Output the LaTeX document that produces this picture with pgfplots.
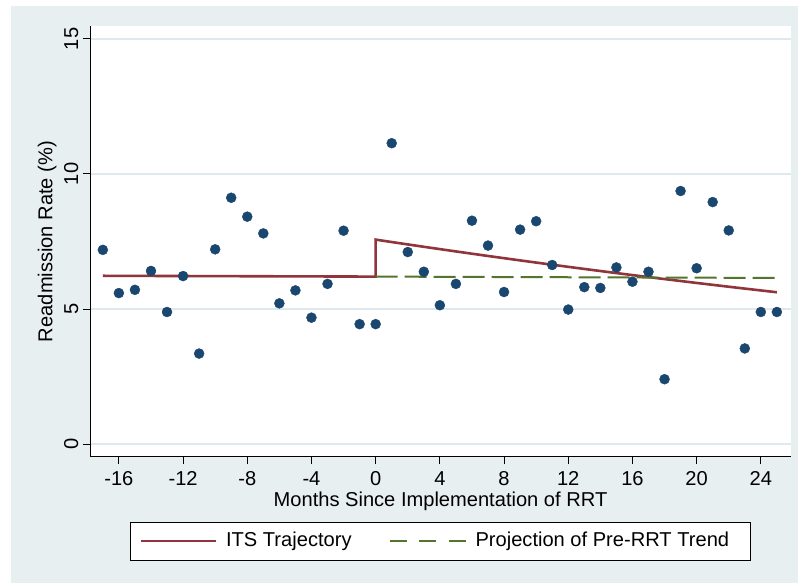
\documentclass[border=0pt]{standalone}
\usepackage{pgfplots}
\pgfplotsset{compat=1.18}
\usepackage{fontspec}
\setmainfont{Liberation Sans}
\definecolor{bgcol}{RGB}{232,239,241}
\definecolor{gridcol}{RGB}{222,233,238}
\definecolor{navy}{RGB}{26,71,111}
\definecolor{maroon}{RGB}{144,53,59}
\definecolor{forest}{RGB}{85,117,47}
\newcommand{\fs}{\fontsize{20.1bp}{24bp}\selectfont}
\pgfplotsset{
  itsimg/.style={legend image code/.code={\draw[maroon, line width=2.6bp] (0bp,0bp) -- (75bp,0bp);}},
  projimg/.style={legend image code/.code={\draw[forest, line width=2bp, dash pattern=on 17bp off 12.5bp] (0bp,0bp) -- (76bp,0bp);}}
}
\begin{document}
\begin{tikzpicture}
\fill[white] (0,0) rectangle (798bp,583bp);
\fill[bgcol] (11bp,0) rectangle (798bp,577bp);
\begin{axis}[
  at={(90bp,126bp)}, anchor=south west,
  scale only axis, width=701bp, height=431bp,
  xmin=-17.80, xmax=25.88, ymin=-0.48, ymax=15.48,
  axis background/.style={fill=white},
  axis x line*=bottom, axis y line*=left,
  axis line style={black, line width=1bp, -},
  tick align=outside, major tick length=7bp,
  every tick/.style={black, line width=1bp},
  xtick={-16,-12,-8,-4,0,4,8,12,16,20,24},
  xticklabels={-16,-12,-8,-4,0,4,8,12,16,20,24},
  ytick={0,5,10,15},
  yticklabels={0,5,10,15},
  xticklabel style={font=\fs, inner sep=0pt, anchor=north, yshift=-7.7bp},
  yticklabel style={font=\fs, inner sep=0pt, rotate=90, anchor=south, yshift=4.5bp},
  ymajorgrids, grid style={gridcol, line width=1.2bp},
  xlabel={Months Since Implementation of RRT},
  ylabel={Readmission Rate (\%)},
  xlabel style={font=\fs, at={(axis description cs:0.5,-0.1160)}, anchor=base, inner sep=0pt},
  ylabel style={font=\fs, at={(axis description cs:-0.0538,0.5)}, anchor=base, inner sep=0pt},
  legend columns=2,
  legend style={at={(0.05706,-0.1949)}, anchor=west, font=\fs,
    draw=black, line width=1bp, fill=white,
    inner xsep=9bp, inner ysep=10bp,
    nodes={inner sep=0pt, text height=14bp, text depth=4bp},
    /tikz/every odd column/.append style={column sep=9bp},
    /tikz/every even column/.append style={column sep=37bp}},
  legend cell align=left,
]
\addplot[maroon, line width=2.6bp, no marks, itsimg] coordinates {
(-17,6.23) (0,6.20) (0,7.570) (1,7.480) (2,7.392) (3,7.304) (4,7.218) (5,7.132)
(6,7.048) (7,6.964) (8,6.882) (9,6.800) (10,6.720) (11,6.640) (12,6.562) (13,6.484)
(14,6.407) (15,6.331) (16,6.256) (17,6.182) (18,6.109) (19,6.037) (20,5.965)
(21,5.895) (22,5.825) (23,5.756) (24,5.688) (25,5.620)};
\addlegendentry{ITS Trajectory}
\addplot[forest, line width=2bp, no marks, dash pattern=on 22bp off 7bp, projimg]
  coordinates {(0,6.20) (25,6.15)};
\addlegendentry{Projection of Pre-RRT Trend\rule{12bp}{0pt}}
\addplot[only marks, mark=*, mark size=5bp, navy, mark options={fill=navy, draw=navy}, forget plot] coordinates {
(-17,7.19) (-16,5.59) (-15,5.71) (-14,6.41) (-13,4.89) (-12,6.22) (-11,3.35) (-10,7.21)
(-9,9.12) (-8,8.42) (-7,7.80) (-6,5.21) (-5,5.69) (-4,4.68) (-3,5.93) (-2,7.90)
(-1,4.44) (0,4.44) (1,11.14) (2,7.11) (3,6.38) (4,5.14) (5,5.93) (6,8.27)
(7,7.35) (8,5.63) (9,7.94) (10,8.25) (11,6.63) (12,4.98) (13,5.81) (14,5.78)
(15,6.54) (16,6.01) (17,6.38) (18,2.40) (19,9.37) (20,6.51) (21,8.96) (22,7.91)
(23,3.54) (24,4.89) (25,4.89)};
\end{axis}
\end{tikzpicture}
\end{document}
